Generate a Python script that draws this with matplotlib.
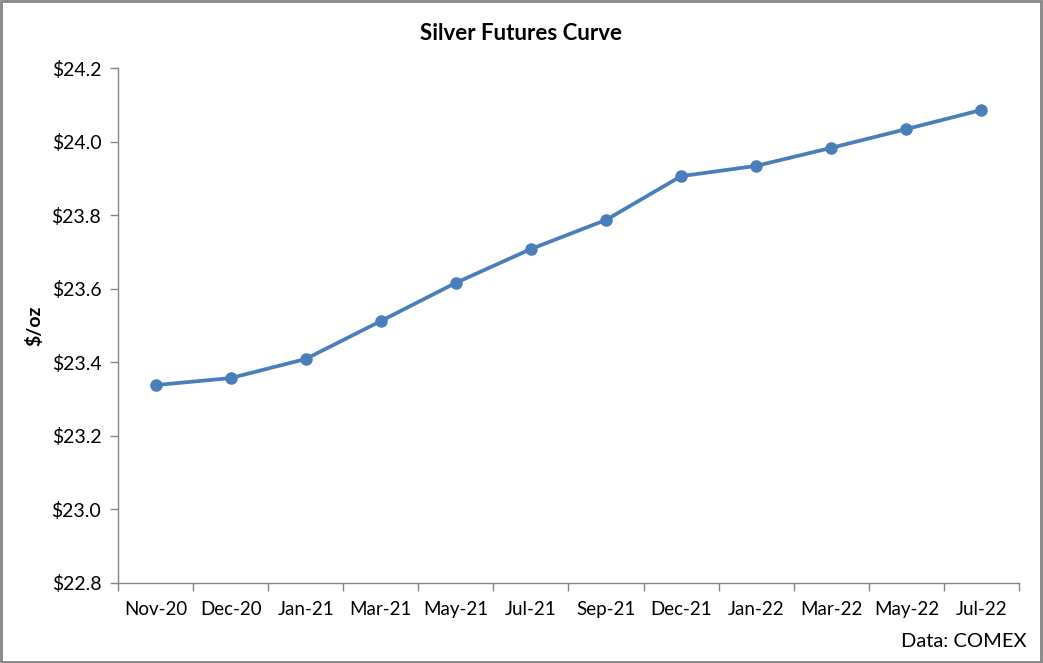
import matplotlib.pyplot as plt
import numpy as np
from matplotlib.ticker import FuncFormatter, FixedLocator

plt.rcParams['font.family'] = ['Lato', 'DejaVu Sans']

# data
months = ["Nov-20", "Dec-20", "Jan-21", "Mar-21", "May-21", "Jul-21",
          "Sep-21", "Dec-21", "Jan-22", "Mar-22", "May-22", "Jul-22"]
prices = [23.338, 23.357, 23.409, 23.512, 23.616, 23.708,
          23.787, 23.906, 23.934, 23.983, 24.034, 24.086]

fig = plt.figure(figsize=(10.43, 6.63), dpi=100)
ax = fig.add_axes([0.1131, 0.1207, 0.9770 - 0.1131, 0.8974 - 0.1207])

x = np.arange(len(months))
ax.plot(x, prices, color="#4A7EBB", lw=2.7, marker="o", ms=8,
        markerfacecolor="#4A7EBB", markeredgecolor="#4A7EBB")

ax.set_xlim(-0.5, len(months) - 0.5)
ax.set_ylim(22.8, 24.2)
ax.set_yticks(np.arange(22.8, 24.21, 0.2))
ax.yaxis.set_major_formatter(FuncFormatter(lambda v, p: f"${v:.1f}"))

ax.set_xticks(x)
ax.set_xticklabels(months)
ax.xaxis.set_minor_locator(FixedLocator(np.arange(-0.5, len(months), 1.0)))
ax.tick_params(axis="x", which="major", length=0, pad=13, labelsize=13.5)
ax.tick_params(axis="x", which="minor", length=6, color="#868686", width=1)
ax.tick_params(axis="y", length=6, color="#868686", width=1, labelsize=14, pad=6)

for s in ["top", "right"]:
    ax.spines[s].set_visible(False)
for s in ["left", "bottom"]:
    ax.spines[s].set_color("#868686")
    ax.spines[s].set_linewidth(1)

ax.set_ylabel("$/oz", fontsize=14, fontweight="bold", labelpad=6)
fig.text(0.5, 0.95, "Silver Futures Curve", ha="center", va="center",
         fontsize=16, fontweight="bold")
fig.text(0.984, 0.033, "Data: COMEX", ha="right", va="center", fontsize=14.5)

# grey frame round the figure
fig.patches.append(plt.Rectangle((0.001, 0.002), 0.997, 0.996, transform=fig.transFigure,
                                 fill=False, edgecolor="#868686", lw=2))

fig.savefig("out.png", dpi=100)
